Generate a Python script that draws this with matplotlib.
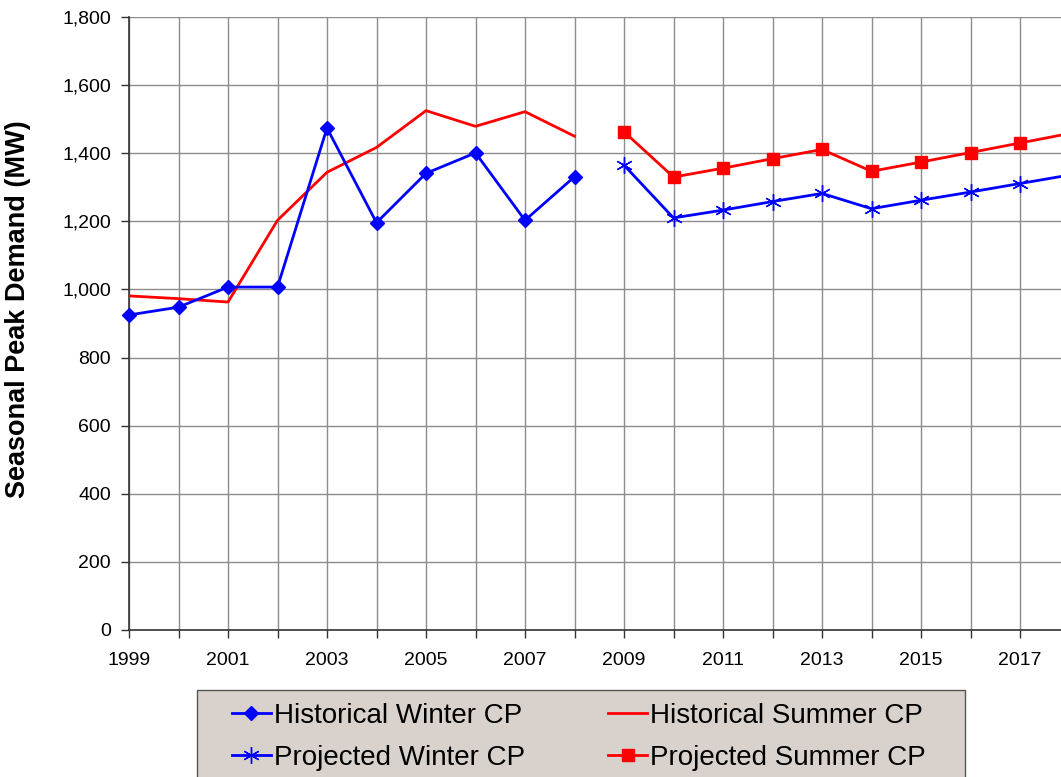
import matplotlib
matplotlib.use("Agg")
import matplotlib.pyplot as plt
from matplotlib.patches import Rectangle

plt.rcParams['font.family'] = ['Liberation Sans', 'DejaVu Sans']

# historical years / values
hist_years = [1999, 2000, 2001, 2002, 2003, 2004, 2005, 2006, 2007, 2008]
hist_winter = [925, 948, 1007, 1007, 1474, 1196, 1341, 1401, 1203, 1331]
hist_summer = [981, 973, 963, 1203, 1344, 1417, 1525, 1479, 1522, 1450]

# projected years / values
proj_years = [2009, 2010, 2011, 2012, 2013, 2014, 2015, 2016, 2017, 2018]
proj_winter = [1365, 1210, 1233, 1258, 1282, 1237, 1262, 1286, 1311, 1336]
proj_summer = [1463, 1330, 1356, 1384, 1411, 1347, 1374, 1402, 1430, 1458]

all_years = list(range(1999, 2019))
y_ticks = list(range(0, 1801, 200))

W, H = 1061, 777
fig = plt.figure(figsize=(W / 100, H / 100), dpi=100)
# axes runs slightly past the right edge of the figure (2018 gets cut off)
ax = fig.add_axes([129 / W, 147 / H, 940.5 / W, 613 / H])

blue = '#0000FF'
red = '#FF0000'

l1, = ax.plot(hist_years, hist_winter, color=blue, lw=2.0, marker='D', ms=7,
              label='Historical Winter CP', clip_on=False, zorder=4)
l2, = ax.plot(hist_years, hist_summer, color=red, lw=2.0,
              label='Historical Summer CP', zorder=3)
l3, = ax.plot(proj_years, proj_winter, color=blue, lw=2.0, marker=(6, 2, 0),
              ms=12, mew=1.0, label='Projected Winter CP', zorder=4)
l4, = ax.plot(proj_years, proj_summer, color=red, lw=2.0, marker='s', ms=8,
              label='Projected Summer CP', zorder=4)

ax.set_xlim(1999, 2018)
ax.set_ylim(0, 1800)
ax.set_xticks(all_years)
ax.set_xticklabels([str(y) if y % 2 == 1 else '' for y in all_years])
ax.set_yticks(y_ticks)
ax.set_yticklabels([f'{v:,}' for v in y_ticks])
ax.tick_params(axis='both', labelsize=14, length=6, width=1, color='#333333',
               direction='out')
ax.tick_params(axis='x', pad=10)
ax.tick_params(axis='y', pad=7)

ax.grid(True, color='#8c8c8c', lw=1.0)
ax.set_axisbelow(True)
for side in ['top', 'right']:
    ax.spines[side].set_visible(False)
for side in ['left', 'bottom']:
    ax.spines[side].set_color('#333333')
    ax.spines[side].set_linewidth(1.2)

ax.set_ylabel('Seasonal Peak Demand (MW)', fontsize=19.5, fontweight='bold')
ax.yaxis.set_label_coords(-0.104, 0.524)

# legend box (runs off the bottom of the figure)
fig.patches.append(Rectangle((197 / W, -0.05), (965 - 197) / W, (0.05 + 1 - 690 / H),
                             transform=fig.transFigure, facecolor='#D9D2CC',
                             edgecolor='#555555', lw=1.0, zorder=0))

leg = fig.legend(handles=[l1, l3, l2, l4], ncol=2, loc='upper left',
                 bbox_to_anchor=(232 / W, 1 - 703 / H),
                 fontsize=20, frameon=False,
                 handlelength=1.4, handletextpad=0.1, columnspacing=3.0,
                 labelspacing=0.58, borderpad=0, borderaxespad=0)

fig.savefig('out.png', dpi=100)
